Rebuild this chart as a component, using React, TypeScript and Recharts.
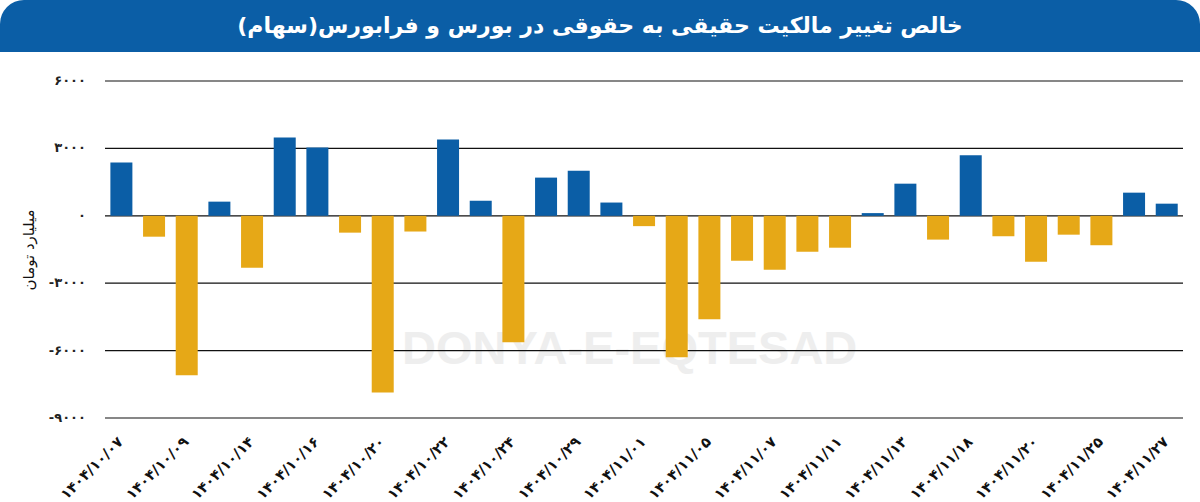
import { BarChart, Bar, XAxis, YAxis, CartesianGrid, Cell, Label } from 'recharts';

const dates = [
    '۱۴۰۴/۱۰/۰۷', '۱۴۰۴/۱۰/۰۸', '۱۴۰۴/۱۰/۰۹', '۱۴۰۴/۱۰/۱۳', '۱۴۰۴/۱۰/۱۴', '۱۴۰۴/۱۰/۱۵',
    '۱۴۰۴/۱۰/۱۶', '۱۴۰۴/۱۰/۱۷', '۱۴۰۴/۱۰/۲۰', '۱۴۰۴/۱۰/۲۱', '۱۴۰۴/۱۰/۲۲', '۱۴۰۴/۱۰/۲۳',
    '۱۴۰۴/۱۰/۲۴', '۱۴۰۴/۱۰/۲۸', '۱۴۰۴/۱۰/۲۹', '۱۴۰۴/۱۰/۳۰', '۱۴۰۴/۱۱/۰۱', '۱۴۰۴/۱۱/۰۴',
    '۱۴۰۴/۱۱/۰۵', '۱۴۰۴/۱۱/۰۶', '۱۴۰۴/۱۱/۰۷', '۱۴۰۴/۱۱/۰۸', '۱۴۰۴/۱۱/۱۱', '۱۴۰۴/۱۱/۱۲',
    '۱۴۰۴/۱۱/۱۳', '۱۴۰۴/۱۱/۱۴', '۱۴۰۴/۱۱/۱۸', '۱۴۰۴/۱۱/۱۹', '۱۴۰۴/۱۱/۲۰', '۱۴۰۴/۱۱/۲۲',
    '۱۴۰۴/۱۱/۲۵', '۱۴۰۴/۱۱/۲۶', '۱۴۰۴/۱۱/۲۷',
];

// billion toman
const netChange = [
    2370, -930, -7100, 630, -2310, 3490, 3040, -750, -7860, -700, 3400, 670,
    -5630, 1700, 2010, 590, -460, -6300, -4600, -2000, -2400, -1600, -1420, 120,
    1430, -1060, 2690, -910, -2040, -840, -1310, 1030, 540,
];

const yTicks = [-9000, -6000, -3000, 0, 3000, 6000];

const title = 'خالص تغییر مالکیت حقیقی به حقوقی در بورس و فرابورس(سهام)';
const unitLabel = 'میلیارد تومان';

const BLUE = '#0b5ea6';
const GOLD = '#e6a817';
const FONT = '"DejaVu Sans", sans-serif';

const toFa = (v: number | string) => String(v).replace(/\d/g, (d) => '۰۱۲۳۴۵۶۷۸۹'[+d]);

const data = dates.map((date, i) => ({ date, value: netChange[i] }));

function DateTick({ x, y, payload }: any) {
    return (
        <g transform={`translate(${x - 5},${y + 9})`}>
            <text
                x={0}
                y={0}
                dy={11}
                textAnchor="end"
                transform="rotate(-45)"
                fontSize={14.5}
                fontWeight="bold"
                fill="#111"
                fontFamily={FONT}
            >
                {payload.value}
            </text>
        </g>
    );
}

function ValueTick({ x, y, payload }: any) {
    return (
        <text x={x} y={y} dy={4} textAnchor="end" fontSize={13} fontWeight="bold" fill="#222" fontFamily={FONT}>
            {toFa(payload.value)}
        </text>
    );
}

export default function App() {
    return (
        <div style={{ width: 1200, height: 502, position: 'relative', background: '#fff', overflow: 'hidden' }}>
            <style>{'body{margin:0}'}</style>
            <div
                style={{
                    height: 52,
                    background: BLUE,
                    borderRadius: '24px 24px 0 0',
                    color: '#fff',
                    fontFamily: FONT,
                    fontWeight: 'bold',
                    fontSize: 22,
                    lineHeight: '52px',
                    textAlign: 'center',
                    direction: 'rtl',
                }}
            >
                {title}
            </div>
            <div
                style={{
                    position: 'absolute',
                    left: 402,
                    top: 320,
                    fontFamily: '"Liberation Sans", Arial, sans-serif',
                    fontWeight: 'bold',
                    fontSize: 47,
                    color: '#eeeeee',
                }}
            >
                DONYA-E-EQTESAD
            </div>
            <div style={{ position: 'absolute', top: 52, left: 0 }}>
                <BarChart
                    width={1200}
                    height={450}
                    data={data}
                    margin={{ top: 29, right: 17, bottom: 0, left: 0 }}
                    barCategoryGap="16.5%"
                >
                    <CartesianGrid vertical={false} stroke="#111" strokeWidth={1.2} />
                    <XAxis
                        dataKey="date"
                        interval={1}
                        tickLine={false}
                        axisLine={false}
                        height={84}
                        tick={<DateTick />}
                    />
                    <YAxis
                        type="number"
                        domain={[-9000, 6000]}
                        ticks={yTicks}
                        width={105}
                        tickLine={false}
                        axisLine={false}
                        tickSize={0}
                        tickMargin={19}
                        tick={<ValueTick />}
                    >
                        <Label
                            content={() => (
                                <text
                                    x={34}
                                    y={198}
                                    textAnchor="middle"
                                    transform="rotate(-90, 34, 198)"
                                    fontSize={15}
                                    fill="#111"
                                    fontFamily={FONT}
                                    direction="rtl"
                                >
                                    {unitLabel}
                                </text>
                            )}
                        />
                    </YAxis>
                    <Bar dataKey="value" isAnimationActive={false}>
                        {data.map((d, i) => (
                            <Cell key={i} fill={d.value >= 0 ? BLUE : GOLD} />
                        ))}
                    </Bar>
                </BarChart>
            </div>
        </div>
    );
}
